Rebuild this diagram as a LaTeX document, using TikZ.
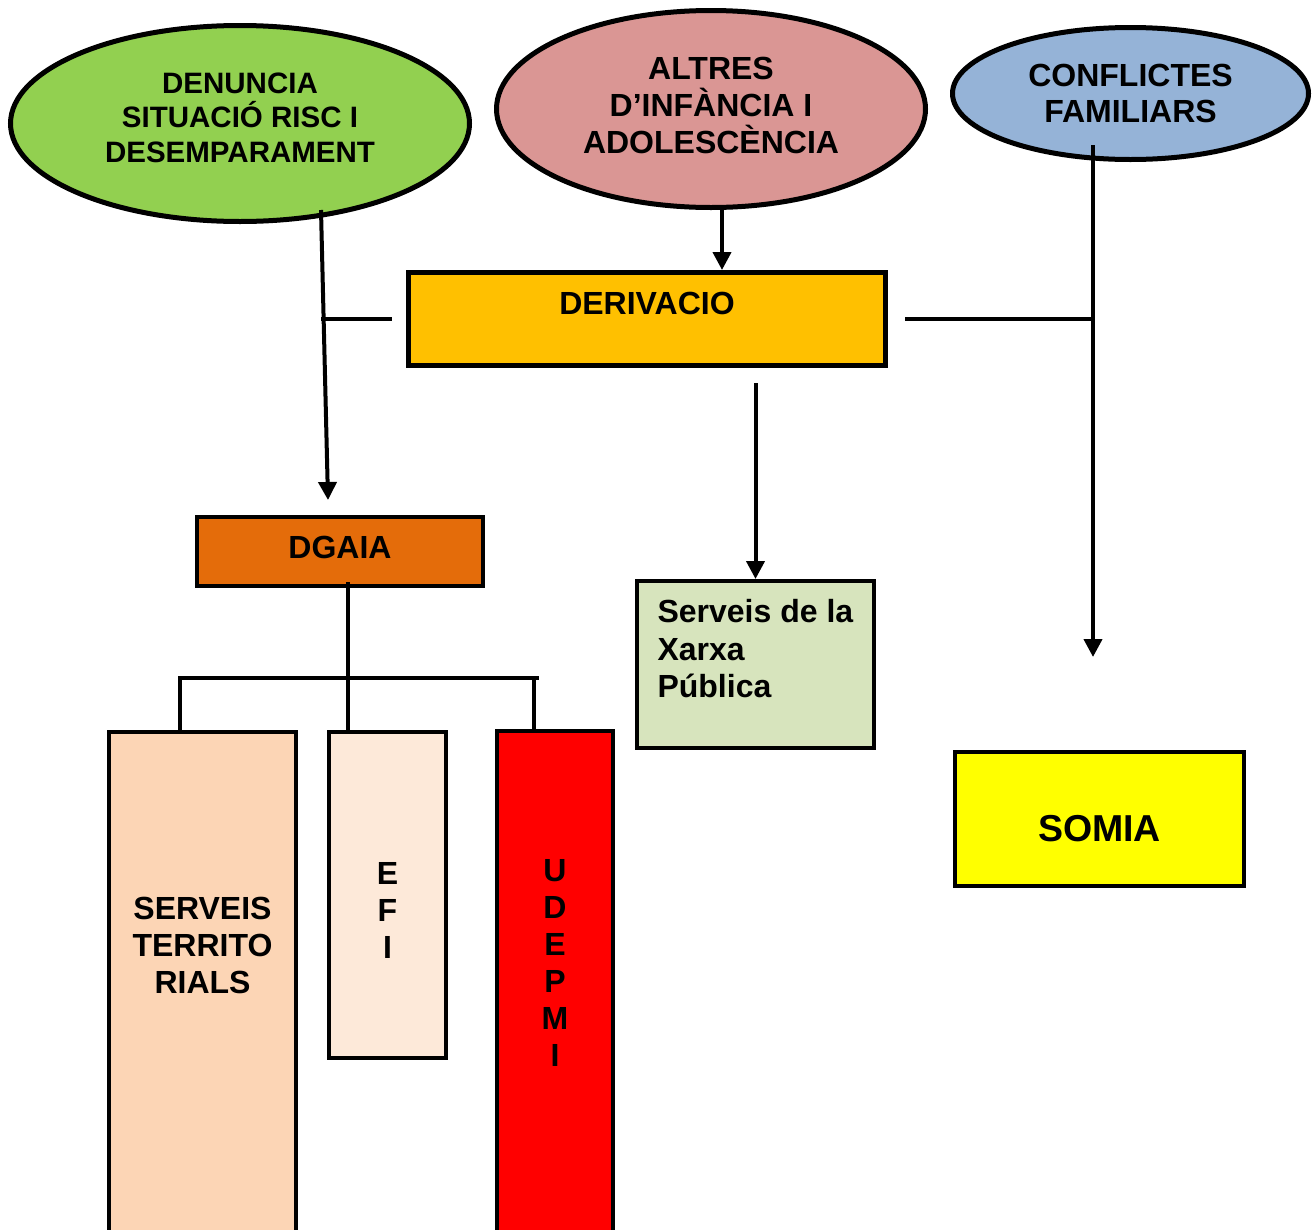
\documentclass[tikz,border=0pt]{standalone}
\usepackage{fontspec}
\setmainfont{Liberation Sans}
\usetikzlibrary{arrows.meta,shapes.geometric,calc}

\definecolor{denGreen}{HTML}{92D050}
\definecolor{altPink}{HTML}{DA9694}
\definecolor{conBlue}{HTML}{95B3D7}
\definecolor{derOrange}{HTML}{FFC000}
\definecolor{dgaOrange}{HTML}{E46C0A}
\definecolor{xarGreen}{HTML}{D7E4BD}
\definecolor{somYellow}{HTML}{FFFF00}
\definecolor{serPeach}{HTML}{FCD5B5}
\definecolor{efiPeach}{HTML}{FDE9D9}
\definecolor{udeRed}{HTML}{FF0000}

\begin{document}
\begin{tikzpicture}[x=1pt,y=-1pt,
    every node/.style={font=\fontsize{32}{37}\selectfont\bfseries,align=center},
    every label/.style={font=\fontsize{32}{37}\selectfont\bfseries,align=center},
    bubble/.style={ellipse,draw,line width=5pt,inner sep=0pt},
    box/.style={rectangle,draw,line width=4pt,inner sep=0pt},
    conn/.style={line width=4pt},
    arr/.style={conn,-{Triangle[length=18pt,width=18pt]}}]
    \useasboundingbox (0,0) rectangle (1314,1229);

    % Sources
    \node[bubble,fill=denGreen,minimum width=459pt,minimum height=196pt,
      label={[yshift=6pt,font=\fontsize{29.5}{34.5}\selectfont\bfseries]center:DENUNCIA\\SITUACIÓ RISC I\\DESEMPARAMENT}]
      (den) at (240,123.5) {};
    \node[bubble,fill=altPink,minimum width=429pt,minimum height=197pt,
      label={[yshift=4pt]center:ALTRES\\D’INFÀNCIA I\\ADOLESCÈNCIA}]
      (alt) at (711,109) {};
    \node[bubble,fill=conBlue,minimum width=356pt,minimum height=132pt,
      label={[yshift=0pt,font=\fontsize{32}{36}\selectfont\bfseries]center:CONFLICTES\\FAMILIARS}]
      (con) at (1130.5,93.5) {};

    % Middle row
    \node[box,line width=5pt,fill=derOrange,minimum width=477pt,minimum height=93pt,
      label={[anchor=north,yshift=-18.5pt]north:DERIVACIO}] (der) at (647,319) {};
    \node[box,fill=dgaOrange,minimum width=286pt,minimum height=69pt,
      label={[yshift=4pt]center:DGAIA}] (dga) at (340,551.5) {};
    \node[box,fill=xarGreen,minimum width=237pt,minimum height=167pt,
      label={[anchor=north west,align=left,xshift=19pt,yshift=-17pt,
        font=\fontsize{32}{37.5}\selectfont\bfseries]north west:Serveis de la\\Xarxa\\Pública}]
      (xar) at (755.5,664.5) {};
    \node[box,fill=somYellow,minimum width=289pt,minimum height=134pt,
      label={[yshift=-10pt,font=\fontsize{37.5}{44}\selectfont\bfseries]center:SOMIA}]
      (som) at (1099.5,819) {};

    % DGAIA units
    \node[box,fill=serPeach,minimum width=187pt,minimum height=556pt,
      label={[yshift=65pt]center:SERVEIS\\TERRITO\\RIALS}] (ser) at (202.5,1010) {};
    \node[box,fill=efiPeach,minimum width=117pt,minimum height=326pt,
      label={[yshift=-15pt]center:E\\F\\I}] (efi) at (387.5,895) {};
    \node[box,fill=udeRed,minimum width=116pt,minimum height=557pt,
      label={[yshift=47pt]center:U\\D\\E\\P\\M\\I}] (ude) at (555,1009.5) {};

    % Free ends
    \coordinate (dentail) at (321,210);
    \coordinate (dentip) at (328,500);
    \coordinate (contail) at (1093,145);
    \coordinate (contip) at (1093,657);
    \coordinate (dgafoot) at (348,582);
    \coordinate (busL) at (180,678);
    \coordinate (busR) at (537,678);

    % Arrows
    \draw[arr] (dentail) -- (dentip);
    \draw[conn] (der.west -| dentail) -- ([xshift=-14pt]der.west);
    \draw[arr] ([xshift=11pt]alt.south) -- ([xshift=75pt]der.north);
    \draw[arr] ([yshift=-15pt]der.south -| xar.north) -- (xar.north);
    \draw[conn] ([xshift=17pt]der.east) -- (der.east -| contail);
    \draw[arr] (contail) -- (contip);

    % DGAIA tree
    \draw[conn] (dgafoot) -- (dgafoot |- efi.north);
    \draw[conn] ([xshift=-2pt]busL) -- ([xshift=2pt]busR);
    \draw[conn] (busL) -- (busL |- ser.north);
    \draw[conn] ([xshift=-3pt]busR) -- ([xshift=-3pt]busR |- ude.north);

  \end{tikzpicture}
\end{document}
